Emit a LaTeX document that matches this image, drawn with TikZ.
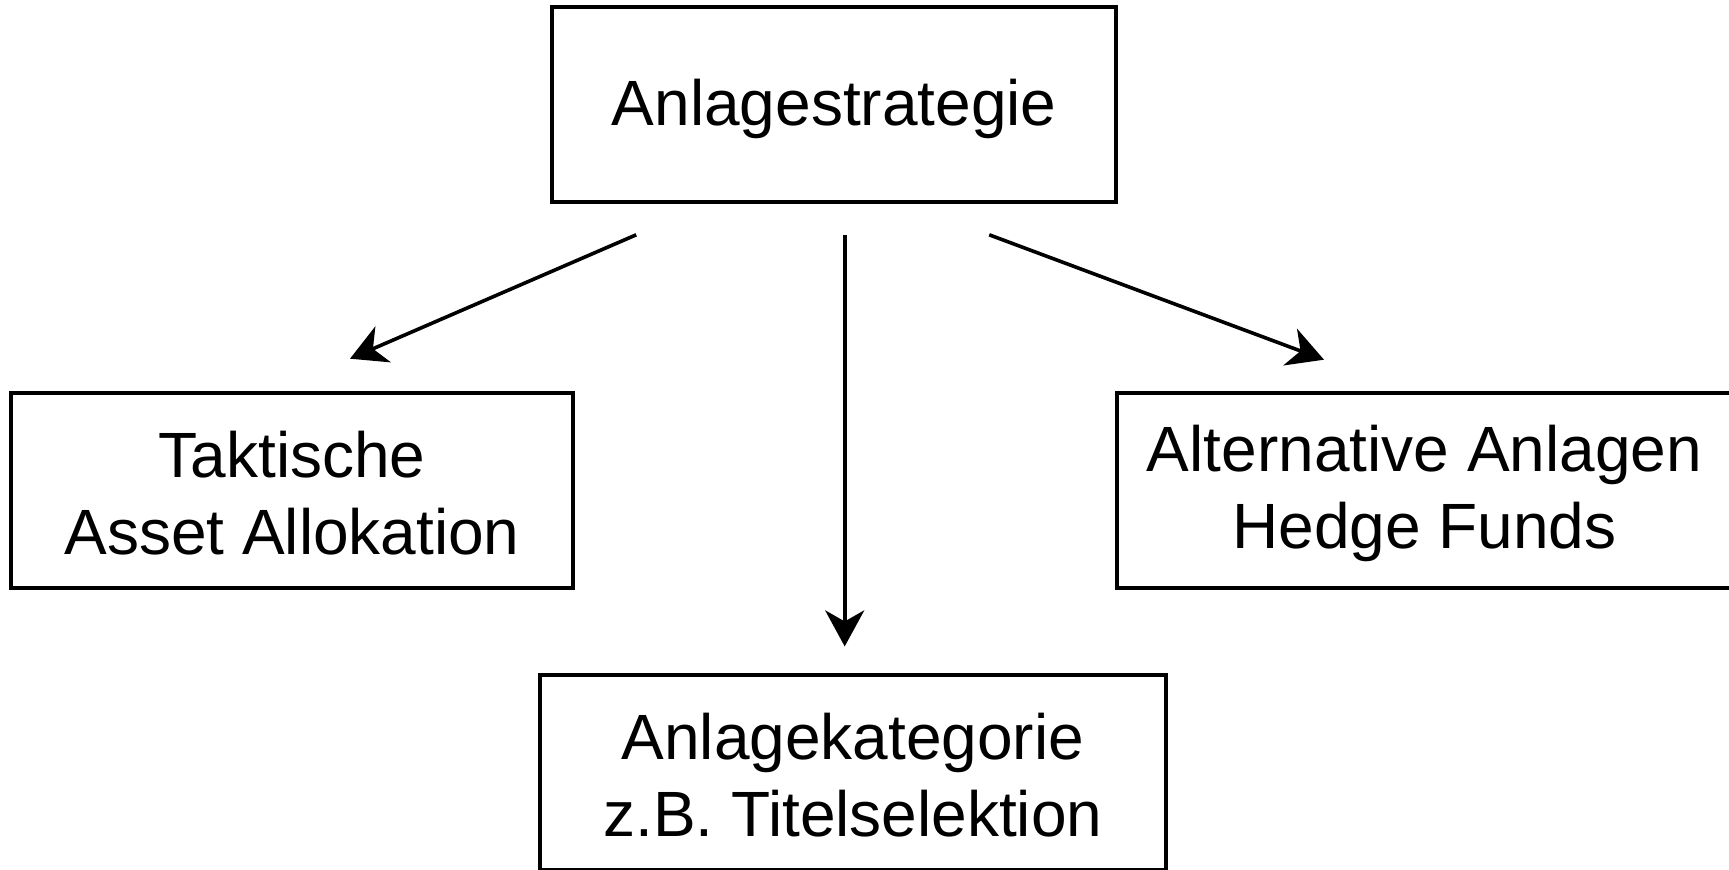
\documentclass[tikz,border=0pt]{standalone}
\usepackage{fontspec}
\setmainfont{Liberation Sans}
\usetikzlibrary{arrows.meta,calc}
\begin{document}
\begin{tikzpicture}[x=0.5pt,y=-0.5pt,
  box/.style={draw=black,line width=2pt,rectangle,inner sep=0pt,align=center,
    font=\fontsize{32}{38.6}\selectfont},
  conn/.style={line width=1.8pt,-{Stealth[length=18pt,width=19.5pt,inset=5.5pt]}}]
\useasboundingbox (0,0) rectangle (1729,869);
\node[box,minimum width=281.75pt,minimum height=97.6pt] (top) at (834.2,104.2) {};
\node[box,minimum width=281pt,minimum height=97.5pt] (left) at (292,490.2) {};
\node[box,minimum width=307.5pt,minimum height=97.5pt] (right) at (1424.5,490.2) {};
\node[box,minimum width=312.75pt,minimum height=97.5pt] (bottom) at (852.8,772.5) {};
\node[box,draw=none] (toptxt) at ($(top.center)+(0,5)$) {Anlagestrategie};
\node[box,draw=none] (lefttxt) at ($(left.center)+(0,3)$) {Taktische\\Asset Allokation};
\node[box,draw=none] (righttxt) at ($(right.center)+(0,3)$) {Alternative Anlagen\\Hedge Funds};
\node[box,draw=none] (bottomtxt) at ($(bottom.center)+(0,3)$) {Anlagekategorie\\z.B. Titelselektion};
\coordinate (a1s) at ($(top.south)+(-198,31)$);
\coordinate (a1e) at ($(left.north)+(58,-32)$);
\coordinate (a2s) at ($(top.south)+(10.5,31)$);
\coordinate (a2e) at ($(bottom.north)+(-8.1,-26.6)$);
\coordinate (a3s) at ($(top.south)+(155,31)$);
\coordinate (a3e) at ($(right.north)+(-100.5,-31)$);
\draw[conn] (a1s) -- (a1e);
\draw[conn] (a2s) -- (a2e);
\draw[conn] (a3s) -- (a3e);
\end{tikzpicture}
\end{document}
